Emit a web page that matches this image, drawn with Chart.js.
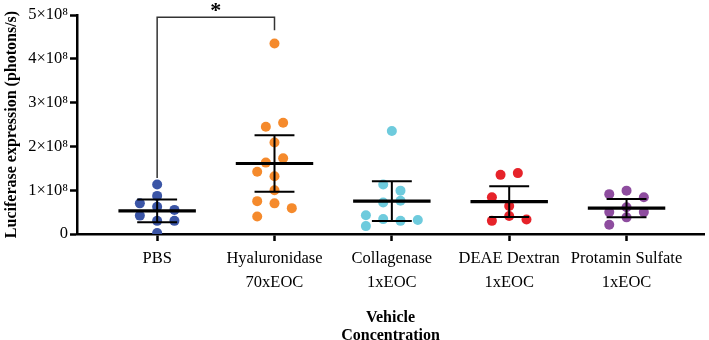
<!DOCTYPE html>
<html><head><meta charset="utf-8">
<script src="https://cdn.jsdelivr.net/npm/chart.js@4/dist/chart.umd.min.js"></script>
<style>html,body{margin:0;padding:0;background:#fff}</style>
</head><body>
<canvas id="c" width="709" height="340"></canvas>
<script>
// ---- data (values in units of 1e8 photons/s) ----
const categories = [["PBS"], ["Hyaluronidase", "70xEOC"], ["Collagenase", "1xEOC"], ["DEAE Dextran", "1xEOC"], ["Protamin Sulfate", "1xEOC"]];
const yTickLabels = ["0", "1×10⁸", "2×10⁸", "3×10⁸", "4×10⁸", "5×10⁸"];
const pbsValues = [1.13, 0.87, 0.70, 0.62, 0.55, 0.42, 0.30, 0.30, 0.02];
const pbsLanes  = [0, 0, -2, 0, 2, -2, 0, 2, 0];
const hyalValues = [4.35, 2.45, 2.54, 2.09, 1.73, 1.63, 1.42, 1.32, 1.00, 0.75, 0.70, 0.59, 0.40];
const hyalLanes  = [0, -1, 1, 0, 1, -1, -2, 0, 0, -2, 0, 2, -2];
const collValues = [2.35, 1.13, 0.99, 0.72, 0.76, 0.43, 0.34, 0.30, 0.18, 0.32];
const collLanes  = [0, -1, 1, -1, 1, -3, -1, 1, -3, 3];
const deaeValues = [1.35, 1.39, 0.84, 0.64, 0.41, 0.30, 0.33];
const deaeLanes  = [-1, 1, -2, 0, 0, -2, 2];
const protValues = [0.91, 0.99, 0.84, 0.50, 0.61, 0.50, 0.38, 0.21];
const protLanes  = [-2, 0, 2, -2, 0, 2, 0, -2];
const groupMeans = [0.53, 1.61, 0.75, 0.74, 0.59];
const groupSD    = [0.26, 0.645, 0.455, 0.35, 0.21];
const sigFrom = 0, sigTo = 1, sigLevel = 4.95, sigLeftEnd = 1.28, sigRightEnd = 4.65, sigLabel = "*";

const SCALE = 1e8;
const groups = [
  {v: pbsValues, l: pbsLanes, c: "#3b55a6"},
  {v: hyalValues, l: hyalLanes, c: "#f58a2c"},
  {v: collValues, l: collLanes, c: "#6ecbdd"},
  {v: deaeValues, l: deaeLanes, c: "#e6232a"},
  {v: protValues, l: protLanes, c: "#8e4d9f"}
];
const laneStep = 0.0737;
const serif = "'Liberation Serif', 'Times New Roman', serif";

const datasets = groups.map((g, gi) => ({
  type: 'scatter',
  data: g.v.map((v, i) => ({x: gi + g.l[i] * laneStep, y: v * SCALE})),
  backgroundColor: g.c,
  borderWidth: 0,
  pointRadius: 5,
  pointHoverRadius: 5
}));

const errPlugin = {
  id: 'err',
  afterDatasetsDraw(chart) {
    const {ctx, scales: {x, y}} = chart;
    ctx.save();
    ctx.strokeStyle = '#000';
    groupMeans.forEach((m, gi) => {
      const sd = groupSD[gi];
      const cx = x.getPixelForValue(gi);
      const ym = y.getPixelForValue(m * SCALE);
      const yt = y.getPixelForValue((m + sd) * SCALE);
      const yb = y.getPixelForValue((m - sd) * SCALE);
      const hw = x.getPixelForValue(gi + 0.33) - cx;
      const cw = x.getPixelForValue(gi + 0.17) - cx;
      ctx.lineWidth = 2;
      ctx.beginPath();
      ctx.moveTo(cx, yt); ctx.lineTo(cx, yb);
      ctx.moveTo(cx - cw, yt); ctx.lineTo(cx + cw, yt);
      ctx.moveTo(cx - cw, yb); ctx.lineTo(cx + cw, yb);
      ctx.stroke();
      ctx.lineWidth = 3.2;
      ctx.beginPath();
      ctx.moveTo(cx - hw, ym); ctx.lineTo(cx + hw, ym);
      ctx.stroke();
    });
    // significance bracket
    const x1 = x.getPixelForValue(sigFrom), x2 = x.getPixelForValue(sigTo);
    const yl = y.getPixelForValue(sigLevel * SCALE);
    ctx.strokeStyle = '#333';
    ctx.lineWidth = 1.5;
    ctx.beginPath();
    ctx.moveTo(x1, y.getPixelForValue(sigLeftEnd * SCALE));
    ctx.lineTo(x1, yl);
    ctx.lineTo(x2, yl);
    ctx.lineTo(x2, y.getPixelForValue(sigRightEnd * SCALE));
    ctx.stroke();
    ctx.fillStyle = '#000';
    ctx.font = "bold 22px " + serif;
    ctx.textAlign = 'center';
    ctx.textBaseline = 'alphabetic';
    ctx.fillText(sigLabel, (x1 + x2) / 2, yl);
    ctx.restore();
  }
};

new Chart(document.getElementById('c'), {
  data: {datasets},
  options: {
    responsive: false,
    animation: false,
    events: [],
    layout: {padding: {top: 15, right: 1, left: 0, bottom: 0}},
    plugins: {legend: {display: false}, tooltip: {enabled: false}},
    scales: {
      x: {
        type: 'linear',
        min: -0.683, max: 4.66,
        afterBuildTicks: s => { s.ticks = categories.map((_, i) => ({value: i})); },
        afterFit: s => { s.height = 106; },
        ticks: {
          callback: v => categories[Math.round(v)],
          color: '#000', padding: 6, maxRotation: 0, autoSkip: false,
          font: {family: serif, size: 16.5, lineHeight: 1.45}
        },
        grid: {drawOnChartArea: false, drawTicks: true, tickLength: 7, tickWidth: 2.5, tickColor: '#000'},
        border: {display: true, color: '#000', width: 2.5},
        title: {display: true, text: ["Vehicle", "Concentration"], color: '#000',
          font: {family: serif, size: 16, weight: 'bold', lineHeight: 1.12}, padding: {top: 0, bottom: -5}}
      },
      y: {
        type: 'linear',
        min: 0, max: 5 * SCALE,
        afterFit: s => { s.width = 77; },
        ticks: {
          stepSize: SCALE,
          callback: v => yTickLabels[Math.round(v / SCALE)],
          color: '#000', padding: 2,
          font: {family: serif, size: 16.5}
        },
        grid: {drawOnChartArea: false, drawTicks: true, tickLength: 7, tickWidth: 2.5, tickColor: '#000'},
        border: {display: true, color: '#000', width: 2.5},
        title: {display: true, text: "Luciferase expression (photons/s)", color: '#000',
          font: {family: serif, size: 16, weight: 'bold'}, padding: {top: 2, bottom: 0}}
      }
    }
  },
  plugins: [errPlugin]
});
</script>
</body></html>
